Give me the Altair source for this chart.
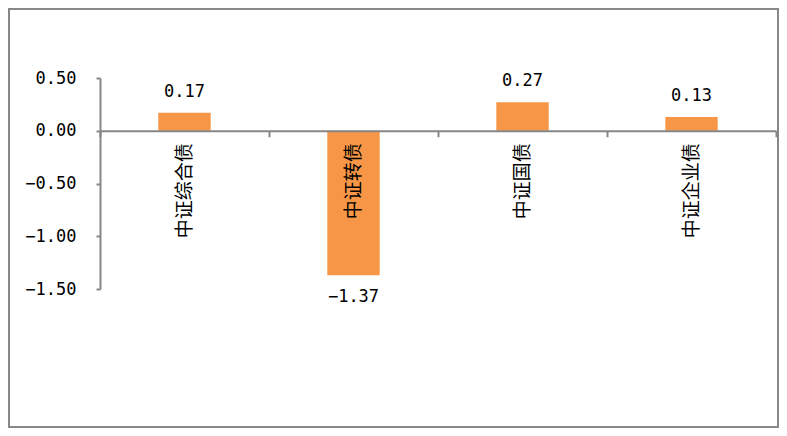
import altair as alt
import pandas as pd

categories = ["中证综合债", "中证转债", "中证国债", "中证企业债"]
values = [0.17, -1.37, 0.27, 0.13]
y_ticks = [-1.5, -1.0, -0.5, 0.0, 0.5]
y_domain = [-1.5, 0.5]

df = pd.DataFrame({"cat": categories, "val": values})

W, H = 676, 211
PAD_L, PAD_T = 92, 70
TOTAL_W, TOTAL_H = 771, 420
zero_from_top = (y_domain[1] - 0) / (y_domain[1] - y_domain[0]) * H
x_offset = -(H - zero_from_top)

AX = "#868686"
BAR = "#F79646"
NUM_FONT = "DejaVu Sans Mono"

x_enc = alt.X(
    "cat:N",
    sort=categories,
    scale=alt.Scale(paddingInner=0, paddingOuter=0),
    axis=alt.Axis(
        title=None, labelAngle=-90, offset=x_offset, tickBand="extent",
        tickSize=6, tickWidth=2, tickColor=AX, domainColor=AX, domainWidth=2,
        labelFont="Noto Sans CJK SC", labelFontSize=19, labelColor="black",
        labelPadding=6, labelOverlap=False, labelLimit=300, zindex=1,
    ),
)
y_enc = alt.Y(
    "val:Q",
    scale=alt.Scale(domain=y_domain, nice=False, zero=False),
    axis=alt.Axis(
        title=None, values=y_ticks, format=".2f", grid=False,
        tickSize=4, tickWidth=2, tickColor=AX, domainColor=AX, domainWidth=2,
        labelFont=NUM_FONT, labelFontSize=17, labelColor="black", labelPadding=20,
        zindex=1,
    ),
)

base = alt.Chart(df)

frame = alt.Chart(pd.DataFrame({"a": [0]})).mark_rect(
    fill="white", fillOpacity=0, stroke="#888888", strokeWidth=2, clip=False
).encode(
    x=alt.value(-PAD_L + 1), x2=alt.value(TOTAL_W - PAD_L - 1),
    y=alt.value(-PAD_T + 1), y2=alt.value(TOTAL_H - PAD_T - 1),
)

bars = base.mark_bar(color=BAR, width=alt.RelativeBandSize(0.31)).encode(x=x_enc, y=y_enc)

pos_text = base.transform_filter("datum.val >= 0").mark_text(
    dy=-21, font=NUM_FONT, fontSize=17, color="black"
).encode(x=alt.X("cat:N", sort=categories), y="val:Q", text=alt.Text("val:Q", format=".2f"))

neg_text = base.transform_filter("datum.val < 0").mark_text(
    dy=22, font=NUM_FONT, fontSize=17, color="black"
).encode(x=alt.X("cat:N", sort=categories), y="val:Q", text=alt.Text("val:Q", format=".2f"))

chart = alt.layer(frame, bars, pos_text, neg_text).properties(
    width=W, height=H,
    padding={"left": PAD_L, "top": PAD_T, "right": TOTAL_W - PAD_L - W, "bottom": TOTAL_H - PAD_T - H},
    autosize=alt.AutoSizeParams(type="none"),
).configure_view(stroke=None)

chart.save("out.html", embed_options={"renderer": "svg", "actions": False})
